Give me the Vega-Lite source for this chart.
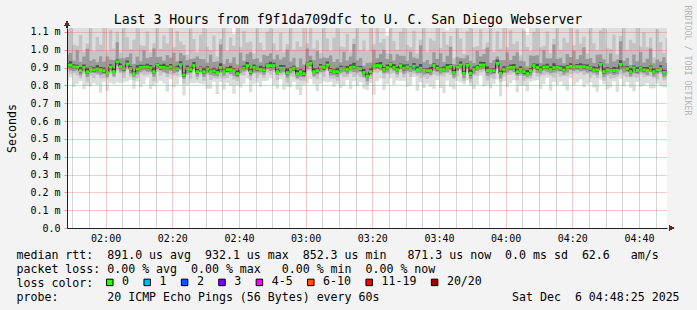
{
"$schema": "https://vega.github.io/schema/vega-lite/v6.json",
"width": 600, "height": 200,
"autosize": {"type": "none"},
"padding": {"left": 67, "top": 28, "right": 30, "bottom": 82},
"background": "#f3f3f3",
"config": {
  "view": {"fill": "#ffffff", "stroke": null},
  "font": "DejaVu Sans Mono",
  "axis": {"labelFont": "DejaVu Sans Mono", "titleFont": "DejaVu Sans Mono", "labelColor": "#000000", "titleColor": "#000000", "titleFontWeight": "normal"}
},
"data": {"format": {"parse": {"t": "utc:'%H:%M'"}}, "values": [
{"t":"01:48","a":829,"b":1250,"c":876,"d":1104,"e":894,"f":969,"g":906,"h":926,"m":914},
{"t":"01:49","a":844,"b":1250,"c":864,"d":1174,"e":884,"f":984,"g":902,"h":936,"m":914},
{"t":"01:50","a":793,"b":1250,"c":869,"d":1028,"e":879,"f":939,"g":894,"h":919,"m":903},
{"t":"01:51","a":808,"b":1250,"c":857,"d":1023,"e":884,"f":998,"g":897,"h":916,"m":903},
{"t":"01:52","a":823,"b":1250,"c":841,"d":1083,"e":857,"f":933,"g":872,"h":902,"m":883},
{"t":"01:53","a":780,"b":1250,"c":865,"d":990,"e":879,"f":962,"g":892,"h":917,"m":900},
{"t":"01:54","a":796,"b":1250,"c":821,"d":1036,"e":848,"f":1006,"g":866,"h":900,"m":876},
{"t":"01:55","a":794,"b":1250,"c":855,"d":1144,"e":871,"f":939,"g":887,"h":906,"m":894},
{"t":"01:56","a":812,"b":1250,"c":840,"d":992,"e":870,"f":947,"g":875,"h":902,"m":887},
{"t":"01:57","a":802,"b":1250,"c":859,"d":1072,"e":867,"f":930,"g":883,"h":913,"m":892},
{"t":"01:58","a":759,"b":1250,"c":840,"d":1029,"e":860,"f":964,"g":882,"h":903,"m":889},
{"t":"01:59","a":818,"b":1250,"c":842,"d":1183,"e":863,"f":935,"g":871,"h":901,"m":883},
{"t":"02:00","a":767,"b":1250,"c":835,"d":992,"e":848,"f":962,"g":864,"h":883,"m":872},
{"t":"02:01","a":815,"b":1250,"c":863,"d":1113,"e":885,"f":945,"g":893,"h":919,"m":903},
{"t":"02:02","a":805,"b":1250,"c":845,"d":1007,"e":851,"f":943,"g":871,"h":897,"m":877},
{"t":"02:03","a":817,"b":1250,"c":884,"d":1102,"e":910,"f":1042,"g":921,"h":946,"m":932},
{"t":"02:04","a":812,"b":1250,"c":869,"d":985,"e":878,"f":953,"g":896,"h":923,"m":905},
{"t":"02:05","a":816,"b":1250,"c":842,"d":1124,"e":872,"f":952,"g":881,"h":905,"m":894},
{"t":"02:06","a":822,"b":1250,"c":890,"d":1070,"e":902,"f":960,"g":913,"h":940,"m":920},
{"t":"02:07","a":832,"b":1250,"c":850,"d":1004,"e":867,"f":979,"g":884,"h":909,"m":894},
{"t":"02:08","a":781,"b":1250,"c":828,"d":1056,"e":846,"f":921,"g":858,"h":878,"m":866},
{"t":"02:09","a":822,"b":1250,"c":842,"d":1152,"e":862,"f":962,"g":880,"h":914,"m":892},
{"t":"02:10","a":790,"b":1250,"c":866,"d":1025,"e":876,"f":936,"g":891,"h":916,"m":900},
{"t":"02:11","a":808,"b":1250,"c":857,"d":1023,"e":884,"f":998,"g":897,"h":916,"m":903},
{"t":"02:12","a":843,"b":1250,"c":861,"d":1103,"e":877,"f":953,"g":892,"h":922,"m":903},
{"t":"02:13","a":778,"b":1250,"c":863,"d":988,"e":877,"f":960,"g":890,"h":915,"m":898},
{"t":"02:14","a":797,"b":1250,"c":822,"d":1037,"e":849,"f":1007,"g":867,"h":901,"m":877},
{"t":"02:15","a":814,"b":1250,"c":875,"d":1164,"e":891,"f":959,"g":907,"h":926,"m":914},
{"t":"02:16","a":826,"b":1250,"c":854,"d":1006,"e":884,"f":961,"g":889,"h":916,"m":901},
{"t":"02:17","a":811,"b":1250,"c":868,"d":1081,"e":876,"f":939,"g":892,"h":922,"m":901},
{"t":"02:18","a":766,"b":1250,"c":847,"d":1036,"e":867,"f":971,"g":889,"h":910,"m":896},
{"t":"02:19","a":838,"b":1250,"c":862,"d":1203,"e":883,"f":955,"g":891,"h":921,"m":903},
{"t":"02:20","a":789,"b":1250,"c":857,"d":1014,"e":870,"f":984,"g":886,"h":905,"m":894},
{"t":"02:21","a":806,"b":1250,"c":854,"d":1104,"e":876,"f":936,"g":884,"h":910,"m":894},
{"t":"02:22","a":844,"b":1250,"c":884,"d":1046,"e":890,"f":982,"g":910,"h":936,"m":916},
{"t":"02:23","a":744,"b":1250,"c":811,"d":1029,"e":837,"f":969,"g":848,"h":873,"m":859},
{"t":"02:24","a":801,"b":1250,"c":858,"d":974,"e":867,"f":942,"g":885,"h":912,"m":894},
{"t":"02:25","a":812,"b":1250,"c":838,"d":1120,"e":868,"f":948,"g":877,"h":901,"m":890},
{"t":"02:26","a":813,"b":1250,"c":881,"d":1061,"e":893,"f":951,"g":904,"h":931,"m":911},
{"t":"02:27","a":815,"b":1250,"c":833,"d":987,"e":850,"f":962,"g":867,"h":892,"m":877},
{"t":"02:28","a":809,"b":1250,"c":856,"d":1084,"e":874,"f":949,"g":886,"h":906,"m":894},
{"t":"02:29","a":807,"b":1250,"c":827,"d":1137,"e":847,"f":947,"g":865,"h":899,"m":877},
{"t":"02:30","a":782,"b":1250,"c":858,"d":1017,"e":868,"f":928,"g":883,"h":908,"m":892},
{"t":"02:31","a":782,"b":1250,"c":831,"d":997,"e":858,"f":972,"g":871,"h":890,"m":877},
{"t":"02:32","a":821,"b":1250,"c":839,"d":1081,"e":855,"f":931,"g":870,"h":900,"m":881},
{"t":"02:33","a":752,"b":1250,"c":837,"d":962,"e":851,"f":934,"g":864,"h":889,"m":872},
{"t":"02:34","a":820,"b":1250,"c":845,"d":1060,"e":872,"f":1030,"g":890,"h":924,"m":900},
{"t":"02:35","a":777,"b":1250,"c":838,"d":1127,"e":854,"f":922,"g":870,"h":889,"m":877},
{"t":"02:36","a":814,"b":1250,"c":842,"d":994,"e":872,"f":949,"g":877,"h":904,"m":889},
{"t":"02:37","a":799,"b":1250,"c":856,"d":1069,"e":864,"f":927,"g":880,"h":910,"m":889},
{"t":"02:38","a":753,"b":1090,"c":834,"d":1023,"e":854,"f":958,"g":876,"h":897,"m":883},
{"t":"02:39","a":801,"b":1250,"c":825,"d":1166,"e":846,"f":918,"g":854,"h":884,"m":866},
{"t":"02:40","a":789,"b":1250,"c":857,"d":1014,"e":870,"f":984,"g":886,"h":905,"m":894},
{"t":"02:41","a":808,"b":1250,"c":856,"d":1106,"e":878,"f":938,"g":886,"h":912,"m":896},
{"t":"02:42","a":839,"b":1250,"c":879,"d":1041,"e":885,"f":977,"g":905,"h":931,"m":911},
{"t":"02:43","a":762,"b":1250,"c":829,"d":1047,"e":855,"f":987,"g":866,"h":891,"m":877},
{"t":"02:44","a":807,"b":1250,"c":864,"d":980,"e":873,"f":948,"g":891,"h":918,"m":900},
{"t":"02:45","a":816,"b":1250,"c":842,"d":1124,"e":872,"f":952,"g":881,"h":905,"m":894},
{"t":"02:46","a":792,"b":1250,"c":860,"d":1040,"e":872,"f":930,"g":883,"h":910,"m":890},
{"t":"02:47","a":825,"b":1250,"c":843,"d":997,"e":860,"f":972,"g":877,"h":902,"m":887},
{"t":"02:48","a":826,"b":1250,"c":873,"d":1101,"e":891,"f":966,"g":903,"h":923,"m":911},
{"t":"02:49","a":841,"b":1250,"c":861,"d":1171,"e":881,"f":981,"g":899,"h":933,"m":911},
{"t":"02:50","a":801,"b":1250,"c":877,"d":1036,"e":887,"f":947,"g":902,"h":927,"m":911},
{"t":"02:51","a":782,"b":1250,"c":831,"d":997,"e":858,"f":972,"g":871,"h":890,"m":877},
{"t":"02:52","a":836,"b":1250,"c":854,"d":1096,"e":870,"f":946,"g":885,"h":915,"m":896},
{"t":"02:53","a":776,"b":1250,"c":861,"d":986,"e":875,"f":958,"g":888,"h":913,"m":896},
{"t":"02:54","a":792,"b":1250,"c":817,"d":1032,"e":844,"f":1002,"g":862,"h":896,"m":872},
{"t":"02:55","a":790,"b":1250,"c":851,"d":1140,"e":867,"f":935,"g":883,"h":902,"m":890},
{"t":"02:56","a":821,"b":1250,"c":849,"d":1001,"e":879,"f":956,"g":884,"h":911,"m":896},
{"t":"02:57","a":776,"b":1250,"c":833,"d":1046,"e":841,"f":904,"g":857,"h":887,"m":866},
{"t":"02:58","a":747,"b":1250,"c":828,"d":1017,"e":848,"f":952,"g":870,"h":891,"m":877},
{"t":"02:59","a":801,"b":1250,"c":825,"d":1166,"e":846,"f":918,"g":854,"h":884,"m":866},
{"t":"03:00","a":813,"b":1250,"c":881,"d":1038,"e":894,"f":1008,"g":910,"h":929,"m":918},
{"t":"03:01","a":836,"b":1250,"c":884,"d":1134,"e":906,"f":966,"g":914,"h":940,"m":924},
{"t":"03:02","a":805,"b":1250,"c":845,"d":1007,"e":851,"f":943,"g":871,"h":897,"m":877},
{"t":"03:03","a":768,"b":1250,"c":835,"d":1053,"e":861,"f":993,"g":872,"h":897,"m":883},
{"t":"03:04","a":810,"b":1250,"c":867,"d":983,"e":876,"f":951,"g":894,"h":921,"m":903},
{"t":"03:05","a":822,"b":1250,"c":848,"d":1130,"e":878,"f":958,"g":887,"h":911,"m":900},
{"t":"03:06","a":816,"b":1250,"c":884,"d":1064,"e":896,"f":954,"g":907,"h":934,"m":914},
{"t":"03:07","a":821,"b":1250,"c":839,"d":993,"e":856,"f":968,"g":873,"h":898,"m":883},
{"t":"03:08","a":792,"b":1250,"c":839,"d":1067,"e":857,"f":932,"g":869,"h":889,"m":877},
{"t":"03:09","a":807,"b":1250,"c":827,"d":1137,"e":847,"f":947,"g":865,"h":899,"m":877},
{"t":"03:10","a":784,"b":1250,"c":860,"d":1019,"e":870,"f":930,"g":885,"h":910,"m":894},
{"t":"03:11","a":799,"b":1250,"c":848,"d":1014,"e":875,"f":989,"g":888,"h":907,"m":894},
{"t":"03:12","a":830,"b":1250,"c":848,"d":1090,"e":864,"f":940,"g":879,"h":909,"m":890},
{"t":"03:13","a":780,"b":1250,"c":865,"d":990,"e":879,"f":962,"g":892,"h":917,"m":900},
{"t":"03:14","a":823,"b":1250,"c":848,"d":1063,"e":875,"f":1033,"g":893,"h":927,"m":903},
{"t":"03:15","a":796,"b":1250,"c":857,"d":1146,"e":873,"f":941,"g":889,"h":908,"m":896},
{"t":"03:16","a":819,"b":1250,"c":847,"d":999,"e":877,"f":954,"g":882,"h":909,"m":894},
{"t":"03:17","a":782,"b":1250,"c":839,"d":1052,"e":847,"f":910,"g":863,"h":893,"m":872},
{"t":"03:18","a":775,"b":1250,"c":803,"d":992,"e":823,"f":927,"g":845,"h":866,"m":852},
{"t":"03:19","a":812,"b":1250,"c":836,"d":1177,"e":857,"f":929,"g":865,"h":895,"m":877},
{"t":"03:20","a":748,"b":1250,"c":874,"d":1031,"e":887,"f":1001,"g":903,"h":922,"m":911},
{"t":"03:21","a":823,"b":1250,"c":871,"d":1121,"e":893,"f":953,"g":901,"h":927,"m":911},
{"t":"03:22","a":839,"b":1250,"c":879,"d":1041,"e":885,"f":977,"g":905,"h":931,"m":911},
{"t":"03:23","a":775,"b":1250,"c":842,"d":1060,"e":868,"f":1000,"g":879,"h":904,"m":890},
{"t":"03:24","a":807,"b":1080,"c":864,"d":980,"e":873,"f":948,"g":891,"h":918,"m":900},
{"t":"03:25","a":840,"b":1250,"c":866,"d":1148,"e":896,"f":976,"g":905,"h":929,"m":918},
{"t":"03:26","a":802,"b":1250,"c":870,"d":1050,"e":882,"f":940,"g":893,"h":920,"m":900},
{"t":"03:27","a":828,"b":1250,"c":846,"d":1000,"e":863,"f":975,"g":880,"h":905,"m":890},
{"t":"03:28","a":826,"b":1250,"c":873,"d":1101,"e":891,"f":966,"g":903,"h":923,"m":911},
{"t":"03:29","a":826,"b":1250,"c":846,"d":1156,"e":866,"f":966,"g":884,"h":918,"m":896},
{"t":"03:30","a":793,"b":1250,"c":869,"d":1028,"e":879,"f":939,"g":894,"h":919,"m":903},
{"t":"03:31","a":799,"b":1250,"c":848,"d":1014,"e":875,"f":989,"g":888,"h":907,"m":894},
{"t":"03:32","a":847,"b":1250,"c":865,"d":1107,"e":881,"f":957,"g":896,"h":926,"m":907},
{"t":"03:33","a":769,"b":1250,"c":854,"d":979,"e":868,"f":951,"g":881,"h":906,"m":889},
{"t":"03:34","a":816,"b":1250,"c":841,"d":1056,"e":868,"f":1026,"g":886,"h":920,"m":896},
{"t":"03:35","a":785,"b":1250,"c":846,"d":1135,"e":862,"f":930,"g":878,"h":897,"m":885},
{"t":"03:36","a":808,"b":1250,"c":836,"d":988,"e":866,"f":943,"g":871,"h":898,"m":883},
{"t":"03:37","a":793,"b":1250,"c":850,"d":1063,"e":858,"f":921,"g":874,"h":904,"m":883},
{"t":"03:38","a":781,"b":1250,"c":862,"d":1051,"e":882,"f":986,"g":904,"h":925,"m":911},
{"t":"03:39","a":831,"b":1250,"c":855,"d":1196,"e":876,"f":948,"g":884,"h":914,"m":896},
{"t":"03:40","a":785,"b":1250,"c":853,"d":1010,"e":866,"f":980,"g":882,"h":901,"m":890},
{"t":"03:41","a":757,"b":1250,"c":850,"d":1100,"e":872,"f":932,"g":880,"h":906,"m":890},
{"t":"03:42","a":828,"b":1110,"c":868,"d":1030,"e":874,"f":966,"g":894,"h":920,"m":900},
{"t":"03:43","a":792,"b":1250,"c":859,"d":1077,"e":885,"f":1017,"g":896,"h":921,"m":907},
{"t":"03:44","a":779,"b":1250,"c":836,"d":952,"e":845,"f":920,"g":863,"h":890,"m":872},
{"t":"03:45","a":825,"b":1250,"c":851,"d":1133,"e":881,"f":961,"g":890,"h":914,"m":903},
{"t":"03:46","a":816,"b":1250,"c":884,"d":1064,"e":896,"f":954,"g":907,"h":934,"m":914},
{"t":"03:47","a":806,"b":1250,"c":824,"d":978,"e":841,"f":953,"g":858,"h":883,"m":868},
{"t":"03:48","a":829,"b":1250,"c":876,"d":1104,"e":894,"f":969,"g":906,"h":926,"m":914},
{"t":"03:49","a":798,"b":1250,"c":818,"d":1128,"e":838,"f":938,"g":856,"h":890,"m":868},
{"t":"03:50","a":780,"b":1250,"c":856,"d":1015,"e":866,"f":926,"g":881,"h":906,"m":890},
{"t":"03:51","a":805,"b":1250,"c":854,"d":1020,"e":881,"f":995,"g":894,"h":913,"m":900},
{"t":"03:52","a":854,"b":1250,"c":872,"d":1114,"e":888,"f":964,"g":903,"h":933,"m":914},
{"t":"03:53","a":794,"b":1250,"c":879,"d":1004,"e":893,"f":976,"g":906,"h":931,"m":914},
{"t":"03:54","a":803,"b":1250,"c":828,"d":1043,"e":855,"f":1013,"g":873,"h":907,"m":883},
{"t":"03:55","a":783,"b":1250,"c":844,"d":1133,"e":860,"f":928,"g":876,"h":895,"m":883},
{"t":"03:56","a":808,"b":1250,"c":836,"d":988,"e":866,"f":943,"g":871,"h":898,"m":883},
{"t":"03:57","a":834,"b":1250,"c":891,"d":1104,"e":899,"f":962,"g":915,"h":945,"m":924},
{"t":"03:58","a":738,"b":1250,"c":819,"d":1008,"e":839,"f":943,"g":861,"h":882,"m":868},
{"t":"03:59","a":825,"b":1250,"c":849,"d":1190,"e":870,"f":942,"g":878,"h":908,"m":890},
{"t":"04:00","a":791,"b":1250,"c":859,"d":1016,"e":872,"f":986,"g":888,"h":907,"m":896},
{"t":"04:01","a":813,"b":1250,"c":861,"d":1111,"e":883,"f":943,"g":891,"h":917,"m":901},
{"t":"04:02","a":829,"b":1250,"c":869,"d":1031,"e":875,"f":967,"g":895,"h":921,"m":901},
{"t":"04:03","a":762,"b":1250,"c":829,"d":1047,"e":855,"f":987,"g":866,"h":891,"m":877},
{"t":"04:04","a":797,"b":1250,"c":854,"d":970,"e":863,"f":938,"g":881,"h":908,"m":890},
{"t":"04:05","a":799,"b":1250,"c":825,"d":1107,"e":855,"f":935,"g":864,"h":888,"m":877},
{"t":"04:06","a":768,"b":1085,"c":836,"d":1016,"e":848,"f":906,"g":859,"h":886,"m":866},
{"t":"04:07","a":821,"b":1250,"c":839,"d":993,"e":856,"f":968,"g":873,"h":898,"m":883},
{"t":"04:08","a":826,"b":1250,"c":873,"d":1101,"e":891,"f":966,"g":903,"h":923,"m":911},
{"t":"04:09","a":830,"b":1250,"c":850,"d":1160,"e":870,"f":970,"g":888,"h":922,"m":900},
{"t":"04:10","a":780,"b":1250,"c":856,"d":1015,"e":866,"f":926,"g":881,"h":906,"m":890},
{"t":"04:11","a":808,"b":1250,"c":857,"d":1023,"e":884,"f":998,"g":897,"h":916,"m":903},
{"t":"04:12","a":843,"b":1250,"c":861,"d":1103,"e":877,"f":953,"g":892,"h":922,"m":903},
{"t":"04:13","a":770,"b":1250,"c":855,"d":980,"e":869,"f":952,"g":882,"h":907,"m":890},
{"t":"04:14","a":820,"b":1250,"c":845,"d":1060,"e":872,"f":1030,"g":890,"h":924,"m":900},
{"t":"04:15","a":803,"b":1250,"c":864,"d":1153,"e":880,"f":948,"g":896,"h":915,"m":903},
{"t":"04:16","a":821,"b":1250,"c":849,"d":1001,"e":879,"f":956,"g":884,"h":911,"m":896},
{"t":"04:17","a":797,"b":1250,"c":854,"d":1067,"e":862,"f":925,"g":878,"h":908,"m":887},
{"t":"04:18","a":771,"b":1250,"c":852,"d":1041,"e":872,"f":976,"g":894,"h":915,"m":901},
{"t":"04:19","a":842,"b":1250,"c":866,"d":1207,"e":887,"f":959,"g":895,"h":925,"m":907},
{"t":"04:20","a":800,"b":1250,"c":868,"d":1025,"e":881,"f":995,"g":897,"h":916,"m":905},
{"t":"04:21","a":817,"b":1250,"c":865,"d":1115,"e":887,"f":947,"g":895,"h":921,"m":905},
{"t":"04:22","a":833,"b":1250,"c":873,"d":1035,"e":879,"f":971,"g":899,"h":925,"m":905},
{"t":"04:23","a":790,"b":1250,"c":857,"d":1075,"e":883,"f":1015,"g":894,"h":919,"m":905},
{"t":"04:24","a":807,"b":1250,"c":864,"d":980,"e":873,"f":948,"g":891,"h":918,"m":900},
{"t":"04:25","a":818,"b":1250,"c":844,"d":1126,"e":874,"f":954,"g":883,"h":907,"m":896},
{"t":"04:26","a":789,"b":1250,"c":857,"d":1037,"e":869,"f":927,"g":880,"h":907,"m":887},
{"t":"04:27","a":765,"b":1250,"c":843,"d":997,"e":860,"f":972,"g":877,"h":902,"m":887},
{"t":"04:28","a":833,"b":1250,"c":880,"d":1108,"e":898,"f":973,"g":910,"h":930,"m":918},
{"t":"04:29","a":807,"b":1250,"c":827,"d":1137,"e":847,"f":947,"g":865,"h":899,"m":877},
{"t":"04:30","a":777,"b":1250,"c":853,"d":1012,"e":863,"f":923,"g":878,"h":903,"m":887},
{"t":"04:31","a":789,"b":1250,"c":838,"d":1004,"e":865,"f":979,"g":878,"h":897,"m":884},
{"t":"04:32","a":824,"b":1250,"c":842,"d":1084,"e":858,"f":934,"g":873,"h":903,"m":884},
{"t":"04:33","a":764,"b":1250,"c":849,"d":974,"e":863,"f":946,"g":876,"h":901,"m":884},
{"t":"04:34","a":838,"b":1250,"c":863,"d":1078,"e":890,"f":1048,"g":908,"h":942,"m":918},
{"t":"04:35","a":794,"b":1250,"c":855,"d":1144,"e":871,"f":939,"g":887,"h":906,"m":894},
{"t":"04:36","a":819,"b":1250,"c":847,"d":999,"e":877,"f":954,"g":882,"h":909,"m":894},
{"t":"04:37","a":787,"b":1250,"c":844,"d":1057,"e":852,"f":915,"g":868,"h":898,"m":877},
{"t":"04:38","a":768,"b":1250,"c":849,"d":1038,"e":869,"f":973,"g":891,"h":912,"m":898},
{"t":"04:39","a":819,"b":1250,"c":843,"d":1184,"e":864,"f":936,"g":872,"h":902,"m":884},
{"t":"04:40","a":793,"b":1250,"c":861,"d":1018,"e":874,"f":988,"g":890,"h":909,"m":898},
{"t":"04:41","a":799,"b":1250,"c":847,"d":1097,"e":869,"f":929,"g":877,"h":903,"m":887},
{"t":"04:42","a":812,"b":1250,"c":852,"d":1014,"e":858,"f":950,"g":878,"h":904,"m":884},
{"t":"04:43","a":783,"b":1250,"c":850,"d":1068,"e":876,"f":1008,"g":887,"h":912,"m":898},
{"t":"04:44","a":784,"b":1250,"c":841,"d":957,"e":850,"f":925,"g":868,"h":895,"m":877},
{"t":"04:45","a":809,"b":1250,"c":835,"d":1117,"e":865,"f":945,"g":874,"h":898,"m":887},
{"t":"04:46","a":796,"b":1250,"c":864,"d":1044,"e":876,"f":934,"g":887,"h":914,"m":894},
{"t":"04:47","a":790,"b":1250,"c":829,"d":983,"e":846,"f":958,"g":863,"h":888,"m":873},
{"t":"04:48","a":788,"b":1250,"c":835,"d":1063,"e":853,"f":928,"g":865,"h":885,"m":873},
{"t":"04:49","a":801,"b":1250,"c":821,"d":1131,"e":841,"f":941,"g":859,"h":893,"m":871}
]},
"layer": [
{
  "mark": {"type": "area", "interpolate": "step-after", "color": "#dddddd", "clip": true},
  "encoding": {
    "x": {"field": "t", "type": "temporal",
      "scale": {"type": "utc", "domain": [{"year": 1900, "month": 1, "date": 1, "hours": 1, "minutes": 48, "seconds": 25, "utc": true}, {"year": 1900, "month": 1, "date": 1, "hours": 4, "minutes": 48, "seconds": 25, "utc": true}]},
      "axis": {"orient": "bottom",
        "values": [{"year": 1900, "month": 1, "date": 1, "hours": 2, "minutes": 0, "utc": true}, {"year": 1900, "month": 1, "date": 1, "hours": 2, "minutes": 20, "utc": true}, {"year": 1900, "month": 1, "date": 1, "hours": 2, "minutes": 40, "utc": true}, {"year": 1900, "month": 1, "date": 1, "hours": 3, "minutes": 0, "utc": true}, {"year": 1900, "month": 1, "date": 1, "hours": 3, "minutes": 20, "utc": true}, {"year": 1900, "month": 1, "date": 1, "hours": 3, "minutes": 40, "utc": true}, {"year": 1900, "month": 1, "date": 1, "hours": 4, "minutes": 0, "utc": true}, {"year": 1900, "month": 1, "date": 1, "hours": 4, "minutes": 20, "utc": true}, {"year": 1900, "month": 1, "date": 1, "hours": 4, "minutes": 40, "utc": true}],
        "format": "%H:%M", "labelFontSize": 10, "labelPadding": 5.4, "labelOverlap": false, "labelFlush": false, "ticks": false, "domain": true, "domainColor": "#1f1f1f", "domainWidth": 1, "grid": true, "gridColor": "#de4f4f", "gridOpacity": 0.65, "gridDash": [1, 1], "zindex": 2,
        "title": ["median rtt:\u00a0\u00a0891.0 us avg\u00a0\u00a0932.1 us max\u00a0\u00a0852.3 us min\u00a0\u00a0\u00a0871.3 us now\u00a0\u00a00.0 ms sd\u00a0\u00a062.6\u00a0\u00a0\u00a0am/s", "packet loss: 0.00 % avg\u00a0\u00a00.00 % max\u00a0\u00a0\u00a00.00 % min\u00a0\u00a00.00 % now"],
        "titleFontSize": 11.6, "titleAlign": "left", "titleAnchor": "start", "titleBaseline": "alphabetic", "titleX": -51, "titleY": 30.3, "titleLineHeight": 14}},
    "y": {"field": "a", "type": "quantitative", "scale": {"domain": [0, 1122.4], "nice": false, "zero": true},
      "axis": {"orient": "left", "values": [0, 100, 200, 300, 400, 500, 600, 700, 800, 900, 1000, 1100], "labelExpr": "datum.value == 0 ? '0.0\u00a0\u00a0' : format(datum.value / 1000, '.1f') + '\u00a0m'", "labelFontSize": 10, "labelPadding": 4, "tickSize": 3, "tickColor": "#de4f4f", "tickOpacity": 0.6, "domain": true, "domainColor": "#1f1f1f", "grid": true, "gridColor": "#de4f4f", "gridOpacity": 0.6, "gridDash": [1, 1], "zindex": 2,
        "title": "Seconds", "titleFontSize": 11.6, "titleAngle": 270, "titleAlign": "center", "titleBaseline": "alphabetic", "titleX": -52, "titleY": 100}},
    "y2": {"field": "b"}
  }
},
{
  "mark": {"type": "area", "interpolate": "step-after", "color": "#c4c4c4", "clip": true},
  "encoding": {
    "x": {"field": "t", "type": "temporal",
      "axis": {"orient": "top",
        "values": [{"year": 1900, "month": 1, "date": 1, "hours": 1, "minutes": 50, "utc": true}, {"year": 1900, "month": 1, "date": 1, "hours": 1, "minutes": 55, "utc": true}, {"year": 1900, "month": 1, "date": 1, "hours": 2, "minutes": 5, "utc": true}, {"year": 1900, "month": 1, "date": 1, "hours": 2, "minutes": 10, "utc": true}, {"year": 1900, "month": 1, "date": 1, "hours": 2, "minutes": 15, "utc": true}, {"year": 1900, "month": 1, "date": 1, "hours": 2, "minutes": 25, "utc": true}, {"year": 1900, "month": 1, "date": 1, "hours": 2, "minutes": 30, "utc": true}, {"year": 1900, "month": 1, "date": 1, "hours": 2, "minutes": 35, "utc": true}, {"year": 1900, "month": 1, "date": 1, "hours": 2, "minutes": 45, "utc": true}, {"year": 1900, "month": 1, "date": 1, "hours": 2, "minutes": 50, "utc": true}, {"year": 1900, "month": 1, "date": 1, "hours": 2, "minutes": 55, "utc": true}, {"year": 1900, "month": 1, "date": 1, "hours": 3, "minutes": 5, "utc": true}, {"year": 1900, "month": 1, "date": 1, "hours": 3, "minutes": 10, "utc": true}, {"year": 1900, "month": 1, "date": 1, "hours": 3, "minutes": 15, "utc": true}, {"year": 1900, "month": 1, "date": 1, "hours": 3, "minutes": 25, "utc": true}, {"year": 1900, "month": 1, "date": 1, "hours": 3, "minutes": 30, "utc": true}, {"year": 1900, "month": 1, "date": 1, "hours": 3, "minutes": 35, "utc": true}, {"year": 1900, "month": 1, "date": 1, "hours": 3, "minutes": 45, "utc": true}, {"year": 1900, "month": 1, "date": 1, "hours": 3, "minutes": 50, "utc": true}, {"year": 1900, "month": 1, "date": 1, "hours": 3, "minutes": 55, "utc": true}, {"year": 1900, "month": 1, "date": 1, "hours": 4, "minutes": 5, "utc": true}, {"year": 1900, "month": 1, "date": 1, "hours": 4, "minutes": 10, "utc": true}, {"year": 1900, "month": 1, "date": 1, "hours": 4, "minutes": 15, "utc": true}, {"year": 1900, "month": 1, "date": 1, "hours": 4, "minutes": 25, "utc": true}, {"year": 1900, "month": 1, "date": 1, "hours": 4, "minutes": 30, "utc": true}, {"year": 1900, "month": 1, "date": 1, "hours": 4, "minutes": 35, "utc": true}, {"year": 1900, "month": 1, "date": 1, "hours": 4, "minutes": 45, "utc": true}],
        "labels": false, "ticks": false, "domain": false, "grid": true, "gridColor": "#8f8f8f", "gridOpacity": 0.75, "gridDash": [1, 1], "zindex": 1,
        "title": "Last 3 Hours from f9f1da709dfc to U. C. San Diego Webserver", "titleFontSize": 13.2, "titleAlign": "center", "titleBaseline": "alphabetic", "titleX": 280.5, "titleY": -4.4}},
    "y": {"field": "c", "type": "quantitative",
      "axis": {"orient": "right", "grid": false, "labels": false, "ticks": false, "domain": false,
        "title": "RRDTOOL / TOBI OETIKER", "titleFontSize": 8.3, "titleColor": "#b4b4b4", "titleAngle": 90, "titleAlign": "center", "titleBaseline": "alphabetic", "titleX": 17.3, "titleY": 32}},
    "y2": {"field": "d"}
  }
},
{
  "mark": {"type": "area", "interpolate": "step-after", "color": "#9a9a9a", "clip": true},
  "encoding": {
    "x": {"field": "t", "type": "temporal",
      "axis": {"orient": "bottom", "labels": false, "ticks": false, "domain": false, "grid": false,
        "title": "loss color:", "titleFontSize": 11.6, "titleAlign": "left", "titleAnchor": "start", "titleBaseline": "alphabetic", "titleX": -51, "titleY": 58.3}},
    "y": {"field": "e", "type": "quantitative", "axis": null},
    "y2": {"field": "f"}
  }
},
{
  "mark": {"type": "area", "interpolate": "step-after", "color": "#505050", "clip": true},
  "encoding": {
    "x": {"field": "t", "type": "temporal",
      "axis": {"orient": "bottom", "labels": false, "ticks": false, "domain": false, "grid": false,
        "title": "probe:\u00a0\u00a0\u00a0\u00a0\u00a0\u00a0\u00a020 ICMP Echo Pings (56 Bytes) every 60s\u00a0\u00a0\u00a0\u00a0\u00a0\u00a0\u00a0\u00a0\u00a0\u00a0\u00a0\u00a0\u00a0\u00a0\u00a0\u00a0\u00a0\u00a0\u00a0Sat Dec\u00a0\u00a06 04:48:25 2025",
        "titleFontSize": 11.6, "titleAlign": "left", "titleAnchor": "start", "titleBaseline": "alphabetic", "titleX": -51, "titleY": 72}},
    "y": {"field": "g", "type": "quantitative", "axis": null},
    "y2": {"field": "h"}
  }
},
{
  "mark": {"type": "line", "interpolate": "step-after", "color": "#202020", "strokeWidth": 1, "clip": true},
  "encoding": {
    "x": {"field": "t", "type": "temporal", "axis": null},
    "y": {"field": "m", "type": "quantitative", "axis": null}
  }
},
{
  "mark": {"type": "tick", "orient": "horizontal", "thickness": 3, "size": 3.4, "xOffset": 1.667, "opacity": 1, "clip": true},
  "encoding": {
    "x": {"field": "t", "type": "temporal", "axis": null},
    "y": {"field": "m", "type": "quantitative", "axis": null},
    "color": {"datum": "0", "type": "nominal",
      "scale": {"domain": ["0", "1", "2", "3", "4-5", "6-10", "11-19", "20/20"], "range": ["#26ff00", "#00b8ff", "#0059ff", "#7e00ff", "#ff00ff", "#ff5500", "#ff0000", "#a10000"]},
      "legend": {"title": null, "orient": "none", "legendX": 37, "legendY": 248.3, "direction": "horizontal", "symbolType": "square", "symbolSize": 42, "symbolStrokeColor": "#000000", "symbolStrokeWidth": 1, "symbolOpacity": 1, "labelFont": "DejaVu Sans Mono", "labelFontSize": 11.6, "labelColor": "#000000", "labelOffset": 6.5, "columnPadding": 11.4, "padding": 0, "rowPadding": 0}}
  }
},
{
  "mark": {"type": "rule", "color": "#1f1f1f", "strokeWidth": 1, "clip": false},
  "encoding": {
    "x": {"datum": {"year": 1900, "month": 1, "date": 1, "hours": 1, "minutes": 48, "seconds": 25, "utc": true}, "type": "temporal", "axis": null},
    "y": {"datum": 1122.4, "type": "quantitative", "axis": null},
    "y2": {"datum": 1146}
  }
},
{
  "mark": {"type": "point", "shape": "triangle-up", "filled": true, "color": "#7f1f1f", "size": 22, "opacity": 1, "clip": false},
  "encoding": {
    "x": {"datum": {"year": 1900, "month": 1, "date": 1, "hours": 1, "minutes": 48, "seconds": 25, "utc": true}, "type": "temporal", "axis": null},
    "y": {"datum": 1148, "type": "quantitative", "axis": null}
  }
},
{
  "mark": {"type": "point", "shape": "triangle-right", "filled": true, "color": "#7f1f1f", "size": 22, "opacity": 1, "clip": false},
  "encoding": {
    "x": {"datum": {"year": 1900, "month": 1, "date": 1, "hours": 4, "minutes": 49, "seconds": 40, "utc": true}, "type": "temporal", "axis": null},
    "y": {"datum": 0, "type": "quantitative", "axis": null}
  }
}
]
}
